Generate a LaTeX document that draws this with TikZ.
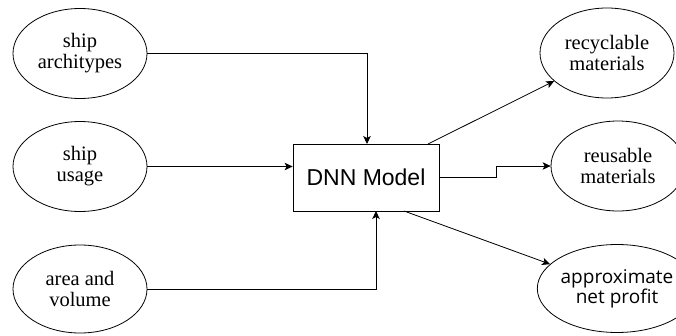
\documentclass[tikz,border=0pt]{standalone}
\usepackage{fontspec}
\setmainfont{Liberation Serif}
\newfontfamily\ovalfont{Liberation Serif}
\newfontfamily\dnnfont{Liberation Sans}
\newfontfamily\apfont{Open Sans}
\usetikzlibrary{shapes.geometric,arrows.meta}
\tikzset{
  elli/.style={draw, line width=0.8bp, ellipse, minimum width=134bp, minimum height=90bp, inner sep=0pt, align=center, font=\ovalfont\fontsize{20.5bp}{21bp}\selectfont},
  modelbox/.style={draw, line width=0.8bp, minimum width=146bp, minimum height=67bp, inner sep=0pt, font=\dnnfont\fontsize{23bp}{25bp}\selectfont},
  conn/.style={line width=0.8bp, -{Stealth[length=8bp,width=7.5bp,inset=2bp]}},
}
\begin{document}
\begin{tikzpicture}[x=1bp,y=1bp]
\useasboundingbox (0,0) rectangle (676,335);
\node[elli] (a1) at (80,281.5) {ship\\architypes};
\node[elli] (a2) at (80,168.5) {ship\\usage};
\node[elli, minimum height=88bp] (a3) at (80,46) {area and\\volume};
\node[modelbox] (dnn) at (366,157.5) {DNN Model};
\node[elli] (r1) at (607,282) {recyclable\\materials};
\node[elli] (r2) at (618,169) {reusable\\materials};
\node[elli, minimum height=88bp, minimum width=130bp, font=\apfont\fontsize{19bp}{18.5bp}\selectfont] (r3) at (617,46.5) {approximate\\net profit};
\coordinate (d1) at (367,191);
\coordinate (d3) at (376,124);
\coordinate (d4) at (428,191);
\coordinate (d5) at (439,158);
\coordinate (d6) at (404,124);
\draw[conn] (a1.east) -| (d1);
\draw[conn] (a2.east) -- (a2.east -| dnn.west);
\draw[conn] (a3.east) -| (d3);
\draw[conn] (d4) -- (r1.208);
\draw[conn] (d5) -- (496,158) -- (496,169) -- (r2.west);
\draw[conn] (d6) -- (r3.160);
\end{tikzpicture}
\end{document}
